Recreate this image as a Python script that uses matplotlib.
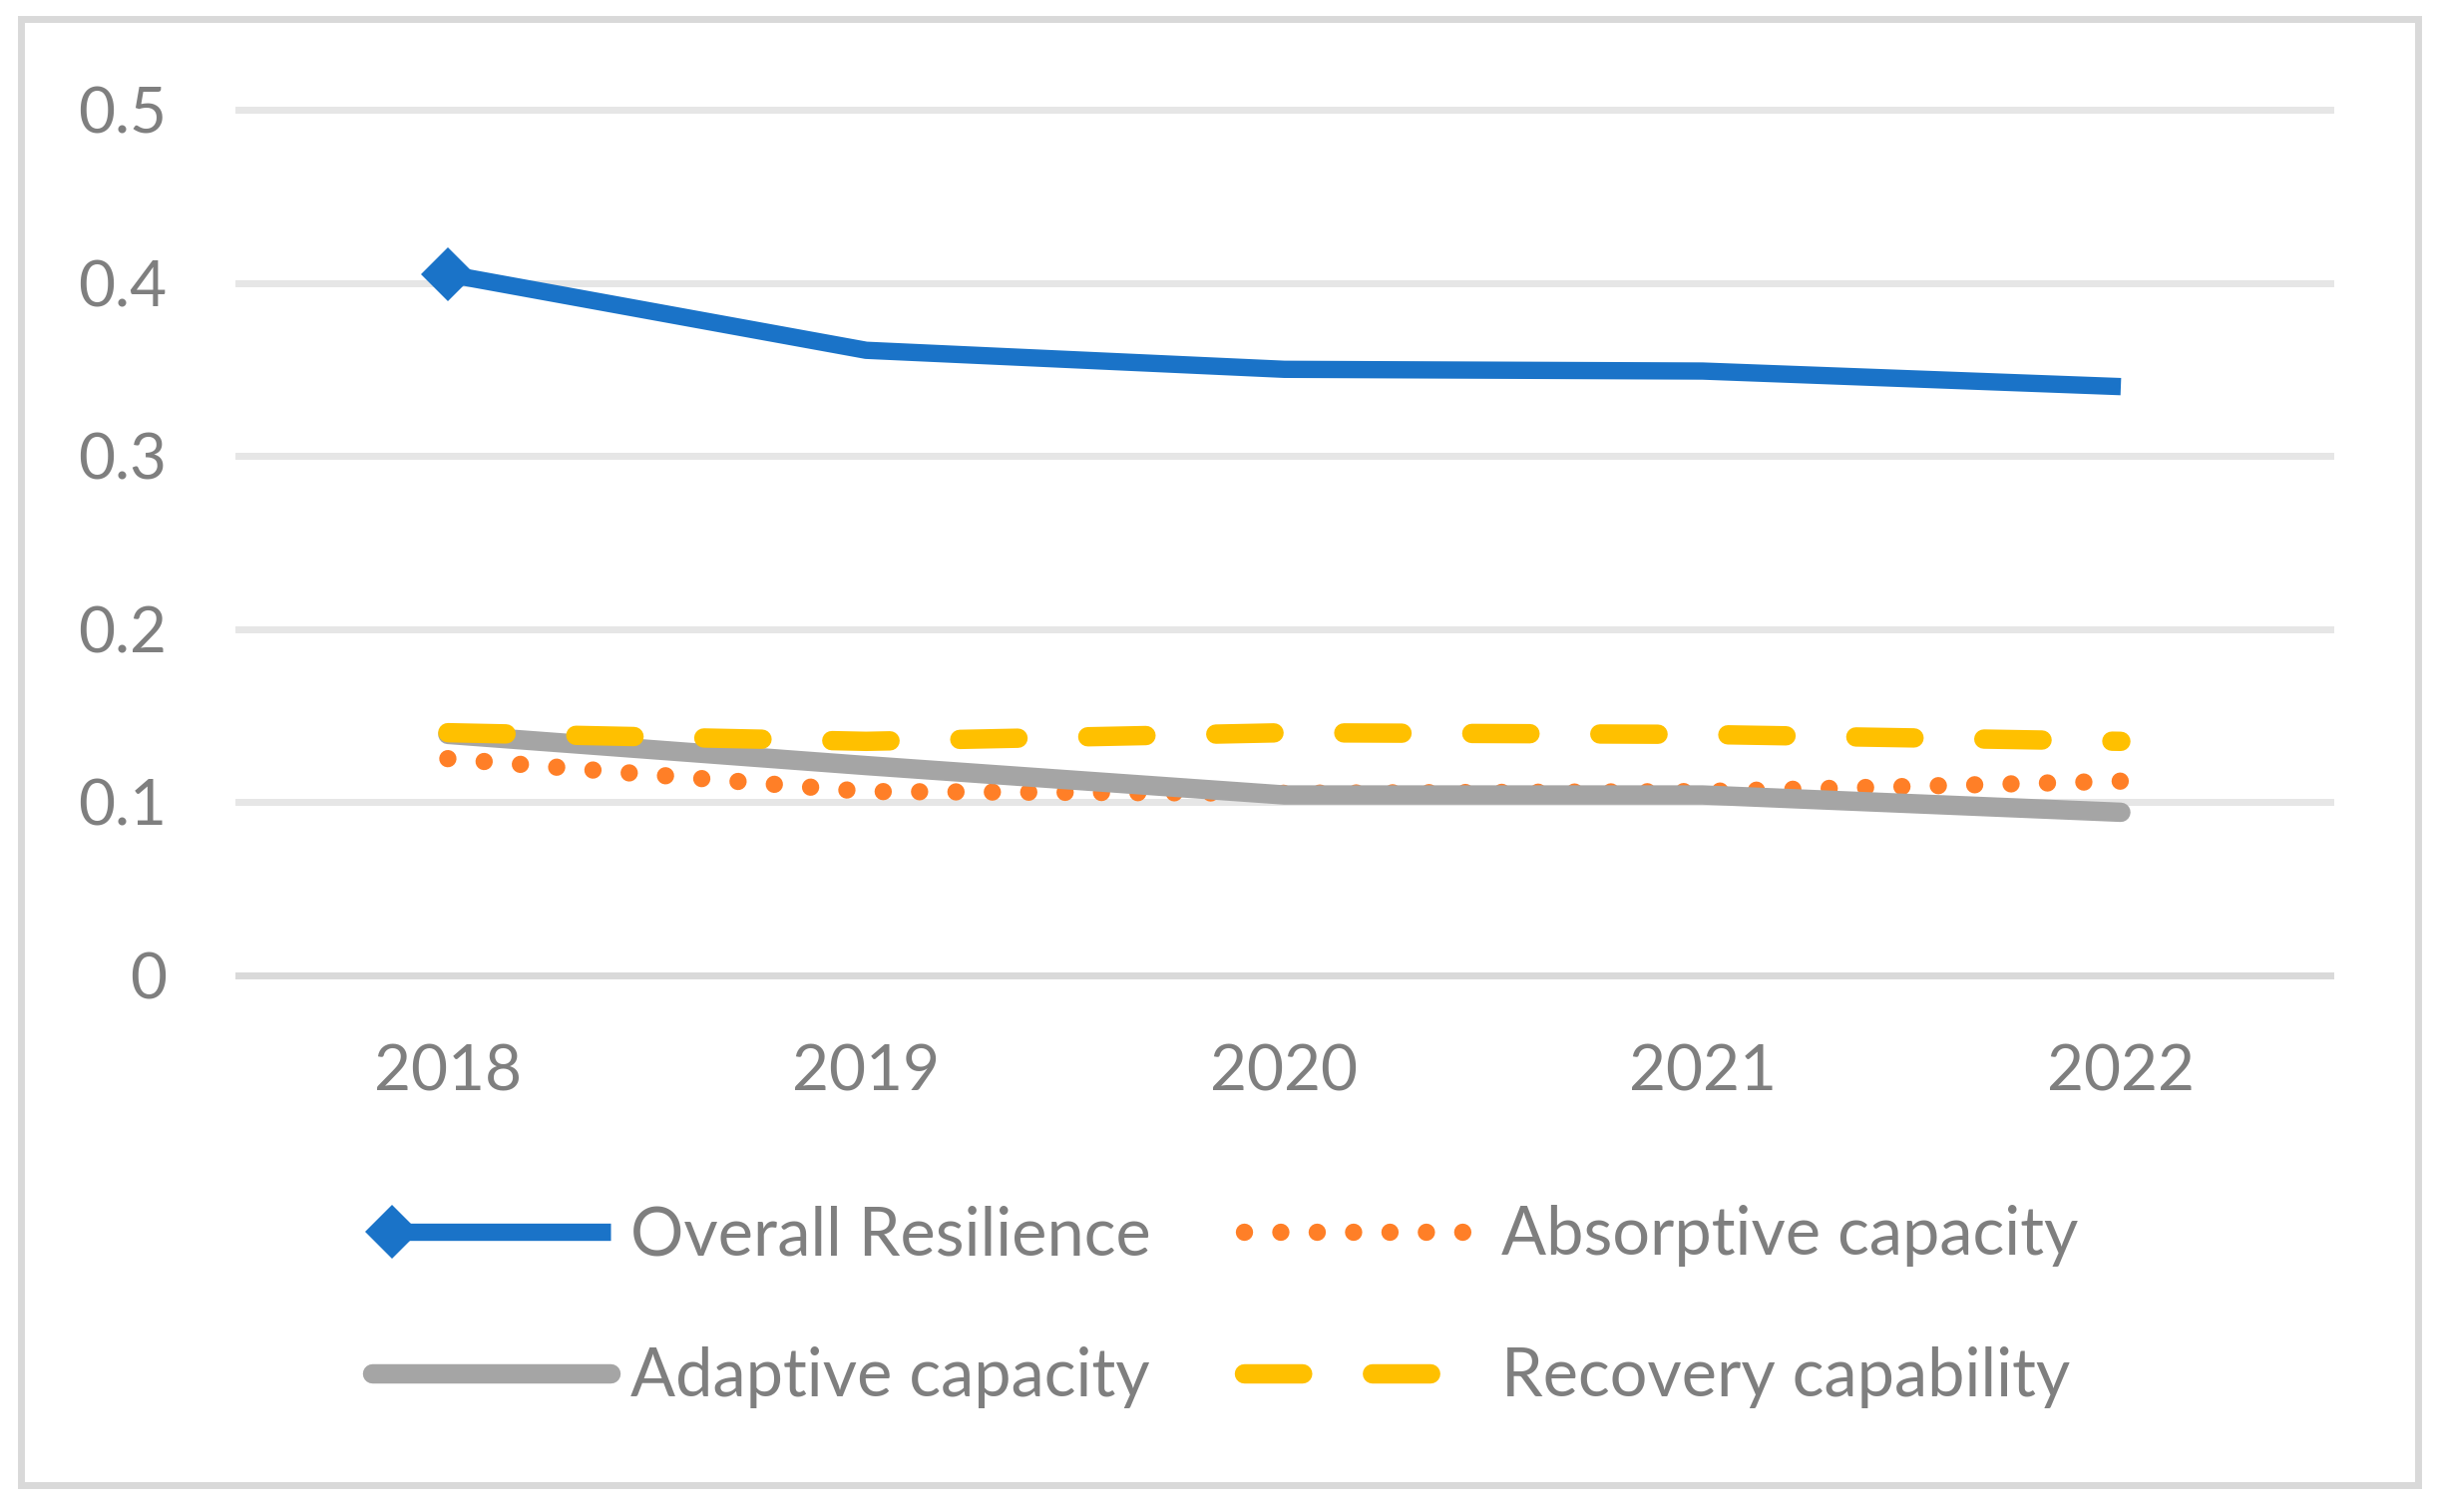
import numpy as np
import matplotlib
matplotlib.use('Agg')
import matplotlib.pyplot as plt
from matplotlib.lines import Line2D
from matplotlib.patches import Rectangle
from matplotlib.legend_handler import HandlerLine2D

years = ['2018', '2019', '2020', '2021', '2022']
overall = [0.405, 0.361, 0.350, 0.349, 0.340]
absorptive = [0.125, 0.106, 0.105, 0.106, 0.112]
adaptive = [0.139, 0.121, 0.104, 0.104, 0.094]
recovery = [0.140, 0.135, 0.140, 0.139, 0.135]
yticks = [0, 0.1, 0.2, 0.3, 0.4, 0.5]

TXT = '#7f7f7f'
FS = 46
LFS = 48
plt.rcParams['font.family'] = ['Lato', 'DejaVu Sans']


class LeftMarker(HandlerLine2D):
    # marker at the left end of the legend sample, like Excel
    def create_artists(self, legend, orig_handle, xdescent, ydescent,
                       width, height, fontsize, trans):
        y = (height - ydescent) / 2
        x0 = -xdescent + 0.085 * width
        x1 = -xdescent + width
        line = Line2D([x0, x1], [y, y])
        self.update_prop(line, orig_handle, legend)
        line.set_marker('None')
        line.set_markevery(None)
        mk = Line2D([x0], [y])
        self.update_prop(mk, orig_handle, legend)
        mk.set_linestyle('None')
        mk.set_markevery(None)
        line.set_transform(trans)
        mk.set_transform(trans)
        return [line, mk]


fig = plt.figure(figsize=(24.47, 15.16), dpi=100)
fig.patch.set_facecolor('white')
ax = fig.add_axes([0.0978, 0.3552, 0.8567, 0.5722])
ax.set_xlim(-0.5, len(years) - 0.5)
ax.set_ylim(0, 0.5)
for s in ax.spines.values():
    s.set_visible(False)

# gridlines
for v in yticks:
    ax.axhline(v, color='#d9d9d9' if v == 0 else '#e6e6e6', lw=5,
               clip_on=False, zorder=1)

x = np.arange(len(years))
l1, = ax.plot(x, overall, color='#1a73c8', lw=12.5, marker='D', ms=28,
              mew=0, markevery=[0], solid_capstyle='butt',
              clip_on=False, zorder=3, label='Overall Resilience')
l2, = ax.plot(x, absorptive, color='#ff7f27', lw=12.5,
              linestyle=(0, (0.001, 2.1)), dash_capstyle='round',
              clip_on=False, zorder=4, label='Absorptive capacity')
l3, = ax.plot(x, adaptive, color='#a5a5a5', lw=14, solid_capstyle='round',
              clip_on=False, zorder=5, label='Adaptive capacity')
l4, = ax.plot(x, recovery, color='#ffc000', lw=14,
              linestyle=(0, (3.0, 3.6)), dash_capstyle='round',
              clip_on=False, zorder=6, label='Recovery capability')

ax.set_xticks(x)
ax.set_xticklabels(years)
ax.set_yticks(yticks)
ax.set_yticklabels([f'{v:g}' for v in yticks])
ax.tick_params(axis='both', length=0, labelsize=FS, labelcolor=TXT)
ax.tick_params(axis='y', pad=52)
ax.tick_params(axis='x', pad=50)

# ncol=2 fills column-wise, so order gives rows: Overall/Absorptive, Adaptive/Recovery
leg = fig.legend([l1, l3, l2, l4],
                 ['Overall Resilience', 'Adaptive capacity',
                  'Absorptive capacity', 'Recovery capability'],
                 loc='center', bbox_to_anchor=(0.502, 0.1356), ncol=2,
                 frameon=False, fontsize=LFS, labelcolor=TXT,
                 handlelength=3.58, handletextpad=0.3, columnspacing=1.4,
                 labelspacing=1.2, handler_map={l1: LeftMarker()})

# chart border
fig.patches.append(Rectangle((20.5 / 2447, 27.5 / 1516), 2403 / 2447, 1470 / 1516,
                             transform=fig.transFigure, fill=False,
                             edgecolor='#d9d9d9', lw=5))

fig.savefig('out.png', dpi=100, facecolor='white')
